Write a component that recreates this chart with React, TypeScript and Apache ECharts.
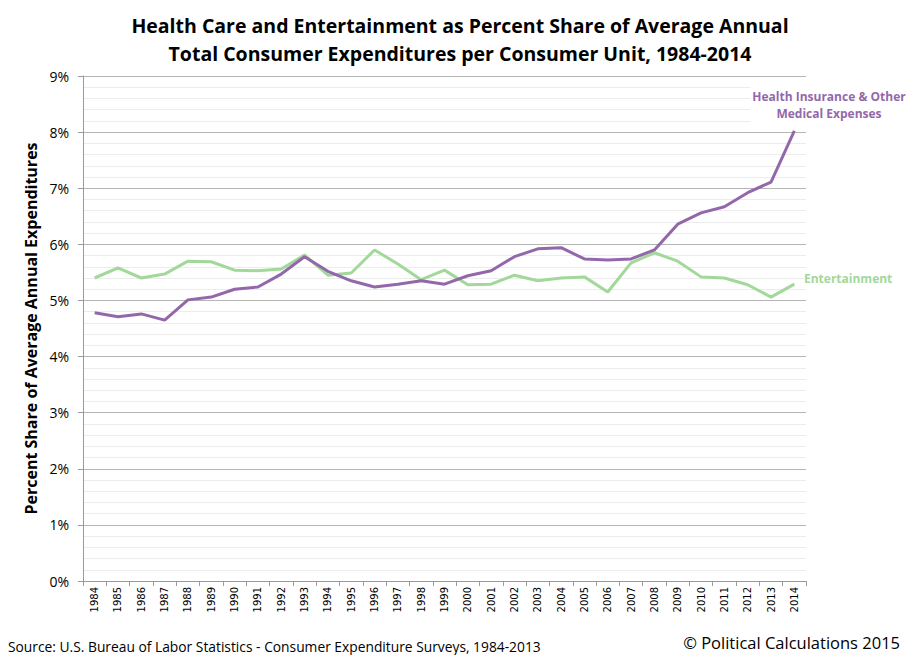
import React, { useEffect, useRef } from 'react';
import * as echarts from 'echarts';

const years = [
  '1984', '1985', '1986', '1987', '1988', '1989', '1990', '1991', '1992', '1993', '1994',
  '1995', '1996', '1997', '1998', '1999', '2000', '2001', '2002', '2003', '2004',
  '2005', '2006', '2007', '2008', '2009', '2010', '2011', '2012', '2013', '2014',
];

const healthShare = [
  4.78, 4.71, 4.76, 4.65, 5.01, 5.06, 5.2, 5.24, 5.47, 5.78, 5.52,
  5.35, 5.24, 5.29, 5.35, 5.29, 5.44, 5.53, 5.78, 5.92, 5.94,
  5.74, 5.72, 5.74, 5.9, 6.36, 6.56, 6.67, 6.92, 7.11, 8.02,
];

const entertainmentShare = [
  5.4, 5.58, 5.4, 5.47, 5.7, 5.69, 5.54, 5.53, 5.56, 5.81, 5.45,
  5.49, 5.9, 5.65, 5.37, 5.54, 5.28, 5.29, 5.45, 5.35, 5.4,
  5.42, 5.15, 5.67, 5.85, 5.7, 5.42, 5.4, 5.28, 5.06, 5.29,
];

const PURPLE = '#9368aa';
const GREEN = '#a2d89a';
const FONT = 'Open Sans';

const App: React.FC = () => {
  const chartRef = useRef<HTMLDivElement>(null);

  useEffect(() => {
    if (!chartRef.current) return;
    const chart = echarts.init(chartRef.current, undefined, { renderer: 'svg' });

    const option: echarts.EChartsOption = {
      animation: false,
      backgroundColor: '#ffffff',
      title: {
        text: 'Health Care and Entertainment as Percent Share of Average Annual\nTotal Consumer Expenditures per Consumer Unit, 1984-2014',
        left: 455,
        textAlign: 'center',
        top: 6,
        textStyle: {
          fontFamily: FONT,
          fontWeight: 'bold',
          fontSize: 19.5,
          lineHeight: 28,
          color: '#000',
        },
      },
      grid: { left: 83, right: 108, top: 76, bottom: 82, containLabel: false },
      xAxis: {
        type: 'category',
        data: years,
        boundaryGap: true,
        axisLine: { lineStyle: { color: '#9a9a9a', width: 1 } },
        axisTick: { show: true, alignWithLabel: false, length: 5, lineStyle: { color: '#9a9a9a' } },
        axisLabel: {
          interval: 0,
          rotate: 90,
          fontFamily: 'DejaVu Sans',
          fontSize: 10,
          color: '#000',
          margin: 6,
        },
      },
      yAxis: {
        type: 'value',
        min: 0,
        max: 9,
        interval: 1,
        name: 'Percent Share of Average Annual Expenditures',
        nameLocation: 'middle',
        nameGap: 41,
        nameTextStyle: {
          fontFamily: FONT,
          fontWeight: 'bold',
          fontSize: 16,
          color: '#000',
        },
        axisLine: { show: true, lineStyle: { color: '#9a9a9a', width: 1 } },
        axisTick: { show: true, length: 5, lineStyle: { color: '#9a9a9a' } },
        axisLabel: {
          formatter: '{value}%',
          fontFamily: FONT,
          fontSize: 14,
          color: '#000',
          margin: 14,
        },
        splitLine: { show: true, lineStyle: { color: '#b4b4b4', width: 1 } },
        minorTick: { show: false, splitNumber: 5 },
        minorSplitLine: { show: true, lineStyle: { color: '#ececec', width: 1 } },
      },
      series: [
        {
          name: 'Entertainment',
          type: 'line',
          data: entertainmentShare,
          symbol: 'none',
          lineStyle: { color: GREEN, width: 3 },
          itemStyle: { color: GREEN },
          z: 2,
        },
        {
          name: 'Health Insurance & Other Medical Expenses',
          type: 'line',
          data: healthShare,
          symbol: 'none',
          lineStyle: { color: PURPLE, width: 3 },
          itemStyle: { color: PURPLE },
          z: 3,
        },
      ],
      graphic: [
        {
          type: 'text',
          x: 829,
          y: 87,
          z: 100,
          style: {
            text: 'Health Insurance & Other\nMedical Expenses',
            align: 'center',
            verticalAlign: 'top',
            fill: PURPLE,
            font: `bold 12px "${FONT}"`,
            lineHeight: 17,
            backgroundColor: '#ffffff',
            padding: [1, 2],
          },
        },
        {
          type: 'text',
          left: 804,
          top: 272,
          z: 100,
          style: {
            text: 'Entertainment',
            fill: GREEN,
            font: `bold 12px "${FONT}"`,
            backgroundColor: '#ffffff',
          },
        },
        {
          type: 'text',
          left: 8,
          top: 639,
          style: {
            text: 'Source: U.S. Bureau of Labor Statistics - Consumer Expenditure Surveys, 1984-2013',
            fill: '#000',
            font: `13.8px "${FONT}"`,
          },
        },
        {
          type: 'text',
          right: 14,
          top: 634,
          style: {
            text: '\u00a9 Political Calculations 2015',
            fill: '#000',
            font: `16.5px "${FONT}"`,
          },
        },
      ],
    };

    chart.setOption(option);

    return () => {
      chart.dispose();
    };
  }, []);

  return <div ref={chartRef} style={{ width: 914, height: 663, margin: -8 }} />;
};

export default App;
